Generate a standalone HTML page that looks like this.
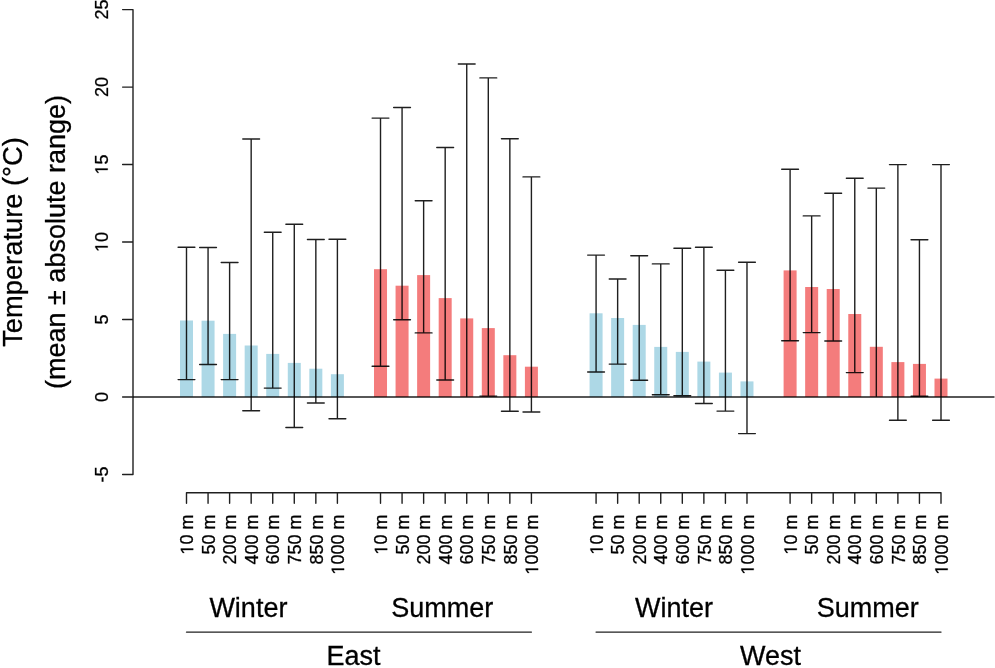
<!DOCTYPE html>
<html><head><meta charset="utf-8"><style>
html,body{margin:0;padding:0;background:#fff;}
body{width:995px;height:668px;overflow:hidden;}
svg{display:block;will-change:transform;}
text{font-family:"Liberation Sans",sans-serif;fill:#000;stroke:#000;stroke-width:0.3px;}
</style></head><body>
<svg width="995" height="668" viewBox="0 0 995 668">
<rect x="180.00" y="320.50" width="13.0" height="76.50" fill="#ADD8E6"/>
<rect x="201.56" y="320.70" width="13.0" height="76.30" fill="#ADD8E6"/>
<rect x="223.11" y="333.90" width="13.0" height="63.10" fill="#ADD8E6"/>
<rect x="244.67" y="345.50" width="13.0" height="51.50" fill="#ADD8E6"/>
<rect x="266.23" y="353.90" width="13.0" height="43.10" fill="#ADD8E6"/>
<rect x="287.78" y="362.90" width="13.0" height="34.10" fill="#ADD8E6"/>
<rect x="309.34" y="368.70" width="13.0" height="28.30" fill="#ADD8E6"/>
<rect x="330.90" y="374.20" width="13.0" height="22.80" fill="#ADD8E6"/>
<rect x="374.01" y="269.20" width="13.0" height="127.80" fill="#F47C7C"/>
<rect x="395.57" y="285.70" width="13.0" height="111.30" fill="#F47C7C"/>
<rect x="417.13" y="275.10" width="13.0" height="121.90" fill="#F47C7C"/>
<rect x="438.68" y="298.10" width="13.0" height="98.90" fill="#F47C7C"/>
<rect x="460.24" y="318.40" width="13.0" height="78.60" fill="#F47C7C"/>
<rect x="481.80" y="328.10" width="13.0" height="68.90" fill="#F47C7C"/>
<rect x="503.35" y="355.20" width="13.0" height="41.80" fill="#F47C7C"/>
<rect x="524.91" y="366.70" width="13.0" height="30.30" fill="#F47C7C"/>
<rect x="589.58" y="313.30" width="13.0" height="83.70" fill="#ADD8E6"/>
<rect x="611.14" y="318.00" width="13.0" height="79.00" fill="#ADD8E6"/>
<rect x="632.70" y="324.90" width="13.0" height="72.10" fill="#ADD8E6"/>
<rect x="654.25" y="346.90" width="13.0" height="50.10" fill="#ADD8E6"/>
<rect x="675.81" y="351.90" width="13.0" height="45.10" fill="#ADD8E6"/>
<rect x="697.37" y="361.60" width="13.0" height="35.40" fill="#ADD8E6"/>
<rect x="718.92" y="372.60" width="13.0" height="24.40" fill="#ADD8E6"/>
<rect x="740.48" y="381.40" width="13.0" height="15.60" fill="#ADD8E6"/>
<rect x="783.60" y="270.40" width="13.0" height="126.60" fill="#F47C7C"/>
<rect x="805.15" y="287.00" width="13.0" height="110.00" fill="#F47C7C"/>
<rect x="826.71" y="289.00" width="13.0" height="108.00" fill="#F47C7C"/>
<rect x="848.27" y="314.00" width="13.0" height="83.00" fill="#F47C7C"/>
<rect x="869.82" y="346.80" width="13.0" height="50.20" fill="#F47C7C"/>
<rect x="891.38" y="362.10" width="13.0" height="34.90" fill="#F47C7C"/>
<rect x="912.94" y="363.90" width="13.0" height="33.10" fill="#F47C7C"/>
<rect x="934.50" y="378.60" width="13.0" height="18.40" fill="#F47C7C"/>
<line x1="133" y1="397.0" x2="994.5" y2="397.0" stroke="rgba(0,0,0,0.88)" stroke-width="1.4"/>
<path d="M186.50 247.20V379.60M178.10 247.20H194.90M178.10 379.60H194.90" stroke="rgba(0,0,0,0.88)" stroke-width="1.4" fill="none" stroke-linecap="round"/>
<path d="M208.06 247.50V364.50M199.66 247.50H216.46M199.66 364.50H216.46" stroke="rgba(0,0,0,0.88)" stroke-width="1.4" fill="none" stroke-linecap="round"/>
<path d="M229.61 262.50V379.60M221.21 262.50H238.01M221.21 379.60H238.01" stroke="rgba(0,0,0,0.88)" stroke-width="1.4" fill="none" stroke-linecap="round"/>
<path d="M251.17 139.00V410.70M242.77 139.00H259.57M242.77 410.70H259.57" stroke="rgba(0,0,0,0.88)" stroke-width="1.4" fill="none" stroke-linecap="round"/>
<path d="M272.73 232.20V388.10M264.33 232.20H281.13M264.33 388.10H281.13" stroke="rgba(0,0,0,0.88)" stroke-width="1.4" fill="none" stroke-linecap="round"/>
<path d="M294.28 224.20V427.50M285.88 224.20H302.68M285.88 427.50H302.68" stroke="rgba(0,0,0,0.88)" stroke-width="1.4" fill="none" stroke-linecap="round"/>
<path d="M315.84 239.50V403.00M307.44 239.50H324.24M307.44 403.00H324.24" stroke="rgba(0,0,0,0.88)" stroke-width="1.4" fill="none" stroke-linecap="round"/>
<path d="M337.40 239.30V418.70M329.00 239.30H345.80M329.00 418.70H345.80" stroke="rgba(0,0,0,0.88)" stroke-width="1.4" fill="none" stroke-linecap="round"/>
<path d="M380.51 118.10V366.30M372.11 118.10H388.91M372.11 366.30H388.91" stroke="rgba(0,0,0,0.88)" stroke-width="1.4" fill="none" stroke-linecap="round"/>
<path d="M402.07 107.50V319.80M393.67 107.50H410.47M393.67 319.80H410.47" stroke="rgba(0,0,0,0.88)" stroke-width="1.4" fill="none" stroke-linecap="round"/>
<path d="M423.63 200.70V332.90M415.23 200.70H432.03M415.23 332.90H432.03" stroke="rgba(0,0,0,0.88)" stroke-width="1.4" fill="none" stroke-linecap="round"/>
<path d="M445.18 147.50V380.00M436.78 147.50H453.58M436.78 380.00H453.58" stroke="rgba(0,0,0,0.88)" stroke-width="1.4" fill="none" stroke-linecap="round"/>
<path d="M466.74 64.00V396.30M458.34 64.00H475.14" stroke="rgba(0,0,0,0.88)" stroke-width="1.4" fill="none" stroke-linecap="round"/>
<path d="M488.30 77.90V396.10M479.90 77.90H496.70M479.90 396.10H496.70" stroke="rgba(0,0,0,0.88)" stroke-width="1.4" fill="none" stroke-linecap="round"/>
<path d="M509.85 138.70V411.20M501.45 138.70H518.25M501.45 411.20H518.25" stroke="rgba(0,0,0,0.88)" stroke-width="1.4" fill="none" stroke-linecap="round"/>
<path d="M531.41 176.90V412.00M523.01 176.90H539.81M523.01 412.00H539.81" stroke="rgba(0,0,0,0.88)" stroke-width="1.4" fill="none" stroke-linecap="round"/>
<path d="M596.08 255.10V372.00M587.68 255.10H604.48M587.68 372.00H604.48" stroke="rgba(0,0,0,0.88)" stroke-width="1.4" fill="none" stroke-linecap="round"/>
<path d="M617.64 279.00V364.10M609.24 279.00H626.04M609.24 364.10H626.04" stroke="rgba(0,0,0,0.88)" stroke-width="1.4" fill="none" stroke-linecap="round"/>
<path d="M639.20 255.70V380.20M630.80 255.70H647.60M630.80 380.20H647.60" stroke="rgba(0,0,0,0.88)" stroke-width="1.4" fill="none" stroke-linecap="round"/>
<path d="M660.75 263.90V394.80M652.35 263.90H669.15M652.35 394.80H669.15" stroke="rgba(0,0,0,0.88)" stroke-width="1.4" fill="none" stroke-linecap="round"/>
<path d="M682.31 248.20V395.80M673.91 248.20H690.71M673.91 395.80H690.71" stroke="rgba(0,0,0,0.88)" stroke-width="1.4" fill="none" stroke-linecap="round"/>
<path d="M703.87 247.30V403.50M695.47 247.30H712.27M695.47 403.50H712.27" stroke="rgba(0,0,0,0.88)" stroke-width="1.4" fill="none" stroke-linecap="round"/>
<path d="M725.42 270.20V411.10M717.02 270.20H733.82M717.02 411.10H733.82" stroke="rgba(0,0,0,0.88)" stroke-width="1.4" fill="none" stroke-linecap="round"/>
<path d="M746.98 262.30V433.60M738.58 262.30H755.38M738.58 433.60H755.38" stroke="rgba(0,0,0,0.88)" stroke-width="1.4" fill="none" stroke-linecap="round"/>
<path d="M790.10 169.20V340.70M781.70 169.20H798.50M781.70 340.70H798.50" stroke="rgba(0,0,0,0.88)" stroke-width="1.4" fill="none" stroke-linecap="round"/>
<path d="M811.65 215.90V332.60M803.25 215.90H820.05M803.25 332.60H820.05" stroke="rgba(0,0,0,0.88)" stroke-width="1.4" fill="none" stroke-linecap="round"/>
<path d="M833.21 193.20V341.00M824.81 193.20H841.61M824.81 341.00H841.61" stroke="rgba(0,0,0,0.88)" stroke-width="1.4" fill="none" stroke-linecap="round"/>
<path d="M854.77 178.20V372.60M846.37 178.20H863.17M846.37 372.60H863.17" stroke="rgba(0,0,0,0.88)" stroke-width="1.4" fill="none" stroke-linecap="round"/>
<path d="M876.32 188.10V396.30M867.92 188.10H884.72" stroke="rgba(0,0,0,0.88)" stroke-width="1.4" fill="none" stroke-linecap="round"/>
<path d="M897.88 164.60V420.30M889.48 164.60H906.28M889.48 420.30H906.28" stroke="rgba(0,0,0,0.88)" stroke-width="1.4" fill="none" stroke-linecap="round"/>
<path d="M919.44 239.70V396.30M911.04 239.70H927.84M911.04 396.30H927.84" stroke="rgba(0,0,0,0.88)" stroke-width="1.4" fill="none" stroke-linecap="round"/>
<path d="M941.00 164.60V420.30M932.60 164.60H949.39M932.60 420.30H949.39" stroke="rgba(0,0,0,0.88)" stroke-width="1.4" fill="none" stroke-linecap="round"/>
<path d="M133.0 9.60V474.48M122.6 9.60H133.0M122.6 87.08H133.0M122.6 164.56H133.0M122.6 242.04H133.0M122.6 319.52H133.0M122.6 397.00H133.0M122.6 474.48H133.0" stroke="rgba(0,0,0,0.88)" stroke-width="1.4" fill="none" stroke-linecap="round"/>
<g transform="translate(107.70 9.60) rotate(-90)"><text x="-10.011" y="0" font-size="18">25</text></g>
<g transform="translate(107.70 87.08) rotate(-90)"><text x="-10.011" y="0" font-size="18">20</text></g>
<g transform="translate(107.70 164.56) rotate(-90)"><path d="M515 0L515 1237L197 1010L197 1180L530 1409L696 1409L696 0Z" transform="translate(-10.011 0) scale(0.008789 -0.008789)" fill="#000" stroke="#000" stroke-width="0.3" vector-effect="non-scaling-stroke"/><text x="0.000" y="0" font-size="18">5</text></g>
<g transform="translate(107.70 242.04) rotate(-90)"><path d="M515 0L515 1237L197 1010L197 1180L530 1409L696 1409L696 0Z" transform="translate(-10.011 0) scale(0.008789 -0.008789)" fill="#000" stroke="#000" stroke-width="0.3" vector-effect="non-scaling-stroke"/><text x="0.000" y="0" font-size="18">0</text></g>
<g transform="translate(107.70 319.52) rotate(-90)"><text x="-5.005" y="0" font-size="18">5</text></g>
<g transform="translate(107.70 397.00) rotate(-90)"><text x="-5.005" y="0" font-size="18">0</text></g>
<g transform="translate(107.70 474.48) rotate(-90)"><text x="-8.002" y="0" font-size="18">-5</text></g>
<path d="M186.50 492.8H941.00M186.50 492.8V503.2M208.06 492.8V503.2M229.61 492.8V503.2M251.17 492.8V503.2M272.73 492.8V503.2M294.28 492.8V503.2M315.84 492.8V503.2M337.40 492.8V503.2M380.51 492.8V503.2M402.07 492.8V503.2M423.63 492.8V503.2M445.18 492.8V503.2M466.74 492.8V503.2M488.30 492.8V503.2M509.85 492.8V503.2M531.41 492.8V503.2M596.08 492.8V503.2M617.64 492.8V503.2M639.20 492.8V503.2M660.75 492.8V503.2M682.31 492.8V503.2M703.87 492.8V503.2M725.42 492.8V503.2M746.98 492.8V503.2M790.10 492.8V503.2M811.65 492.8V503.2M833.21 492.8V503.2M854.77 492.8V503.2M876.32 492.8V503.2M897.88 492.8V503.2M919.44 492.8V503.2M941.00 492.8V503.2" stroke="rgba(0,0,0,0.88)" stroke-width="1.4" fill="none" stroke-linecap="round"/>
<g transform="translate(193.20 514.60) rotate(-90)"><path d="M515 0L515 1237L197 1010L197 1180L530 1409L696 1409L696 0Z" transform="translate(-40.017 0) scale(0.008789 -0.008789)" fill="#000" stroke="#000" stroke-width="0.3" vector-effect="non-scaling-stroke"/><text x="-30.006" y="0" font-size="18">0 m</text></g>
<g transform="translate(214.76 514.60) rotate(-90)"><text x="-40.017" y="0" font-size="18">50 m</text></g>
<g transform="translate(236.31 514.60) rotate(-90)"><text x="-50.027" y="0" font-size="18">200 m</text></g>
<g transform="translate(257.87 514.60) rotate(-90)"><text x="-50.027" y="0" font-size="18">400 m</text></g>
<g transform="translate(279.43 514.60) rotate(-90)"><text x="-50.027" y="0" font-size="18">600 m</text></g>
<g transform="translate(300.98 514.60) rotate(-90)"><text x="-50.027" y="0" font-size="18">750 m</text></g>
<g transform="translate(322.54 514.60) rotate(-90)"><text x="-50.027" y="0" font-size="18">850 m</text></g>
<g transform="translate(344.10 514.60) rotate(-90)"><path d="M515 0L515 1237L197 1010L197 1180L530 1409L696 1409L696 0Z" transform="translate(-60.038 0) scale(0.008789 -0.008789)" fill="#000" stroke="#000" stroke-width="0.3" vector-effect="non-scaling-stroke"/><text x="-50.027" y="0" font-size="18">000 m</text></g>
<g transform="translate(387.21 514.60) rotate(-90)"><path d="M515 0L515 1237L197 1010L197 1180L530 1409L696 1409L696 0Z" transform="translate(-40.017 0) scale(0.008789 -0.008789)" fill="#000" stroke="#000" stroke-width="0.3" vector-effect="non-scaling-stroke"/><text x="-30.006" y="0" font-size="18">0 m</text></g>
<g transform="translate(408.77 514.60) rotate(-90)"><text x="-40.017" y="0" font-size="18">50 m</text></g>
<g transform="translate(430.33 514.60) rotate(-90)"><text x="-50.027" y="0" font-size="18">200 m</text></g>
<g transform="translate(451.88 514.60) rotate(-90)"><text x="-50.027" y="0" font-size="18">400 m</text></g>
<g transform="translate(473.44 514.60) rotate(-90)"><text x="-50.027" y="0" font-size="18">600 m</text></g>
<g transform="translate(495.00 514.60) rotate(-90)"><text x="-50.027" y="0" font-size="18">750 m</text></g>
<g transform="translate(516.55 514.60) rotate(-90)"><text x="-50.027" y="0" font-size="18">850 m</text></g>
<g transform="translate(538.11 514.60) rotate(-90)"><path d="M515 0L515 1237L197 1010L197 1180L530 1409L696 1409L696 0Z" transform="translate(-60.038 0) scale(0.008789 -0.008789)" fill="#000" stroke="#000" stroke-width="0.3" vector-effect="non-scaling-stroke"/><text x="-50.027" y="0" font-size="18">000 m</text></g>
<g transform="translate(602.78 514.60) rotate(-90)"><path d="M515 0L515 1237L197 1010L197 1180L530 1409L696 1409L696 0Z" transform="translate(-40.017 0) scale(0.008789 -0.008789)" fill="#000" stroke="#000" stroke-width="0.3" vector-effect="non-scaling-stroke"/><text x="-30.006" y="0" font-size="18">0 m</text></g>
<g transform="translate(624.34 514.60) rotate(-90)"><text x="-40.017" y="0" font-size="18">50 m</text></g>
<g transform="translate(645.90 514.60) rotate(-90)"><text x="-50.027" y="0" font-size="18">200 m</text></g>
<g transform="translate(667.45 514.60) rotate(-90)"><text x="-50.027" y="0" font-size="18">400 m</text></g>
<g transform="translate(689.01 514.60) rotate(-90)"><text x="-50.027" y="0" font-size="18">600 m</text></g>
<g transform="translate(710.57 514.60) rotate(-90)"><text x="-50.027" y="0" font-size="18">750 m</text></g>
<g transform="translate(732.12 514.60) rotate(-90)"><text x="-50.027" y="0" font-size="18">850 m</text></g>
<g transform="translate(753.68 514.60) rotate(-90)"><path d="M515 0L515 1237L197 1010L197 1180L530 1409L696 1409L696 0Z" transform="translate(-60.038 0) scale(0.008789 -0.008789)" fill="#000" stroke="#000" stroke-width="0.3" vector-effect="non-scaling-stroke"/><text x="-50.027" y="0" font-size="18">000 m</text></g>
<g transform="translate(796.80 514.60) rotate(-90)"><path d="M515 0L515 1237L197 1010L197 1180L530 1409L696 1409L696 0Z" transform="translate(-40.017 0) scale(0.008789 -0.008789)" fill="#000" stroke="#000" stroke-width="0.3" vector-effect="non-scaling-stroke"/><text x="-30.006" y="0" font-size="18">0 m</text></g>
<g transform="translate(818.35 514.60) rotate(-90)"><text x="-40.017" y="0" font-size="18">50 m</text></g>
<g transform="translate(839.91 514.60) rotate(-90)"><text x="-50.027" y="0" font-size="18">200 m</text></g>
<g transform="translate(861.47 514.60) rotate(-90)"><text x="-50.027" y="0" font-size="18">400 m</text></g>
<g transform="translate(883.02 514.60) rotate(-90)"><text x="-50.027" y="0" font-size="18">600 m</text></g>
<g transform="translate(904.58 514.60) rotate(-90)"><text x="-50.027" y="0" font-size="18">750 m</text></g>
<g transform="translate(926.14 514.60) rotate(-90)"><text x="-50.027" y="0" font-size="18">850 m</text></g>
<g transform="translate(947.70 514.60) rotate(-90)"><path d="M515 0L515 1237L197 1010L197 1180L530 1409L696 1409L696 0Z" transform="translate(-60.038 0) scale(0.008789 -0.008789)" fill="#000" stroke="#000" stroke-width="0.3" vector-effect="non-scaling-stroke"/><text x="-50.027" y="0" font-size="18">000 m</text></g>
<text x="248.4" y="617.1" text-anchor="middle" font-size="27">Winter</text>
<text x="442.2" y="617.1" text-anchor="middle" font-size="27">Summer</text>
<text x="674.1" y="617.1" text-anchor="middle" font-size="27">Winter</text>
<text x="867.8" y="617.1" text-anchor="middle" font-size="27">Summer</text>
<path d="M186.50 632.1H531.41M596.08 632.1H941.00" stroke="rgba(0,0,0,0.88)" stroke-width="1.4" fill="none" stroke-linecap="round"/>
<text x="353.6" y="665.2" text-anchor="middle" font-size="27">East</text>
<text x="770.6" y="665.2" text-anchor="middle" font-size="27">West</text>
<text x="22.2" y="242" transform="rotate(-90 22.2 242)" text-anchor="middle" font-size="27.3">Temperature (°C)</text>
<text x="64.7" y="242" transform="rotate(-90 64.7 242)" text-anchor="middle" font-size="27">(mean ± absolute range)</text>
</svg>
</body></html>
